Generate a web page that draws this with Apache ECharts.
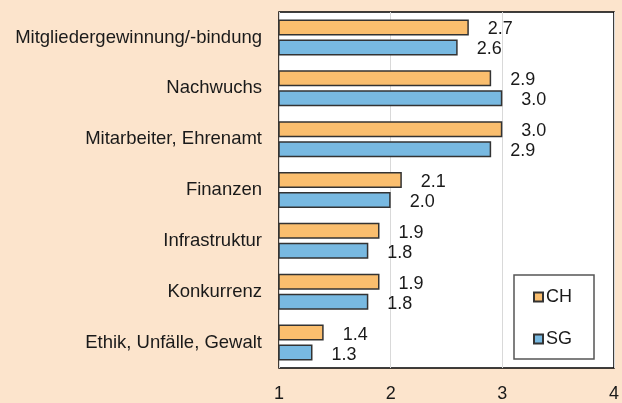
<!DOCTYPE html>
<html>
<head>
<meta charset="utf-8">
<style>
  html, body { margin: 0; padding: 0; background: #FCE4CC; }
  #chart { width: 622px; height: 403px; }
</style>
<script src="https://cdn.jsdelivr.net/npm/echarts@6/dist/echarts.min.js"></script>
</head>
<body>
<div id="chart"></div>
<script>
  // categories top to bottom
  var categories = [
    "Mitgliedergewinnung/-bindung",
    "Nachwuchs",
    "Mitarbeiter, Ehrenamt",
    "Finanzen",
    "Infrastruktur",
    "Konkurrenz",
    "Ethik, Unfälle, Gewalt"
  ];
  var valuesCH = [2.7, 2.9, 3.0, 2.1, 1.9, 1.9, 1.4];
  var valuesSG = [2.6, 3.0, 2.9, 2.0, 1.8, 1.8, 1.3];
  var xTicks = [1, 2, 3, 4];

  var FONT = "Arial, 'Liberation Sans', sans-serif";
  var TEXT = "#1a1a1a";
  var FS = 18;

  function barSeries(name, data, color) {
    return {
      name: name,
      type: "bar",
      data: data,
      barWidth: 16,
      barGap: "25%",
      itemStyle: { color: color, borderColor: "#333", borderWidth: 1.5 },
      label: {
        show: true,
        position: "right",
        distance: 19,
        offset: [0, 2],
        color: TEXT,
        fontSize: FS,
        fontFamily: FONT,
        formatter: function (p) { return p.value.toFixed(1); }
      },
      silent: true
    };
  }

  var chart = echarts.init(document.getElementById("chart"), null, { renderer: "canvas" });
  chart.setOption({
    backgroundColor: "#FCE4CC",
    animation: false,
    textStyle: { fontFamily: FONT, color: TEXT },
    grid: {
      left: 279, right: 4, top: 12, bottom: 32,
      show: true, backgroundColor: "#fff",
      borderColor: "#000", borderWidth: 1.5
    },
    legend: {
      data: ["CH", "SG"],
      orient: "vertical",
      left: 514, top: 275,
      backgroundColor: "#fff",
      borderColor: "#555", borderWidth: 1.5,
      padding: [13, 22, 11, 19],
      itemWidth: 9, itemHeight: 9, itemGap: 24,
      textStyle: { fontSize: FS, color: TEXT, fontFamily: FONT, padding: [0, 0, 0, -2] },
      icon: "rect"
    },
    xAxis: {
      type: "value",
      min: xTicks[0], max: xTicks[xTicks.length - 1], interval: 1,
      axisLine: { show: false },
      axisTick: { show: false },
      splitLine: { show: true, lineStyle: { color: "#d9d9d9", width: 1 } },
      axisLabel: { fontSize: FS, color: TEXT, margin: 17, fontFamily: FONT }
    },
    yAxis: {
      type: "category",
      data: categories,
      inverse: true,
      axisLine: { show: false },
      axisTick: { show: false },
      axisLabel: { fontSize: 18.5, color: TEXT, margin: 17, fontFamily: FONT }
    },
    series: [
      barSeries("CH", valuesCH, "#FABE6E"),
      barSeries("SG", valuesSG, "#78B9E1")
    ]
  });
</script>
</body>
</html>
